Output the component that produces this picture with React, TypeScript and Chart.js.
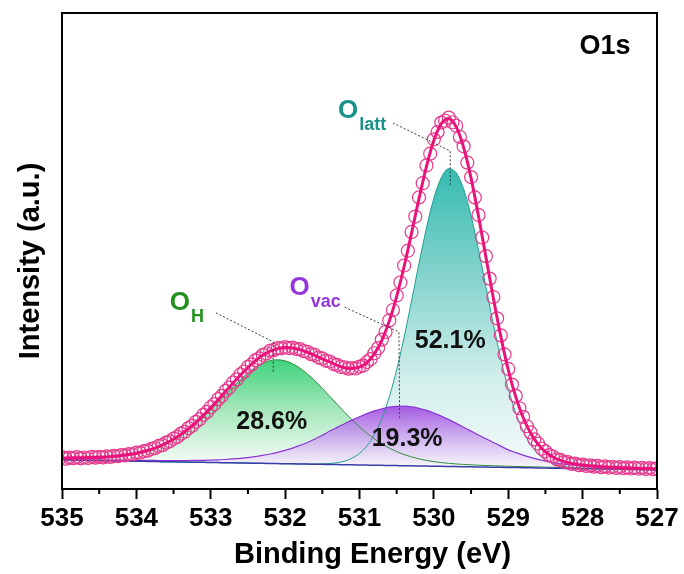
import React, { useEffect, useRef } from 'react';
import { Chart, registerables } from 'chart.js';

Chart.register(...registerables);

// Energy grid of the fitted curves (eV)
const FIT_ENERGY = [
  535.0, 534.9, 534.8, 534.7, 534.6, 534.5, 534.4, 534.3, 534.2, 534.1,
  534.0, 533.9, 533.8, 533.7, 533.6, 533.5, 533.4, 533.3, 533.2, 533.1,
  533.0, 532.9, 532.8, 532.7, 532.6, 532.5, 532.4, 532.3, 532.2, 532.1,
  532.0, 531.9, 531.8, 531.7, 531.6, 531.5, 531.4, 531.3, 531.2, 531.1,
  531.0, 530.9, 530.8, 530.7, 530.6, 530.5, 530.4, 530.3, 530.2, 530.1,
  530.0, 529.9, 529.8, 529.7, 529.6, 529.5, 529.4, 529.3, 529.2, 529.1,
  529.0, 528.9, 528.8, 528.7, 528.6, 528.5, 528.4, 528.3, 528.2, 528.1,
  528.0, 527.9, 527.8, 527.7, 527.6, 527.5, 527.4, 527.3, 527.2, 527.1,
  527.0,
];

// Background under the O 1s envelope
const BACKGROUND = [
  6.10, 6.07, 6.05, 6.02, 6.00, 5.97, 5.94, 5.92, 5.89, 5.86,
  5.84, 5.81, 5.79, 5.76, 5.73, 5.71, 5.68, 5.65, 5.63, 5.60,
  5.58, 5.55, 5.52, 5.50, 5.47, 5.44, 5.42, 5.39, 5.37, 5.34,
  5.31, 5.29, 5.26, 5.23, 5.21, 5.18, 5.16, 5.13, 5.10, 5.08,
  5.05, 5.02, 5.00, 4.97, 4.95, 4.92, 4.89, 4.87, 4.84, 4.81,
  4.79, 4.76, 4.74, 4.71, 4.68, 4.66, 4.63, 4.60, 4.58, 4.55,
  4.53, 4.50, 4.47, 4.45, 4.42, 4.39, 4.37, 4.34, 4.32, 4.29,
  4.26, 4.24, 4.21, 4.18, 4.16, 4.13, 4.11, 4.08, 4.05, 4.03,
  4.00,
];

// Fitted components, height above the background
const O_H_PEAK = [
  0.31, 0.34, 0.37, 0.42, 0.48, 0.55, 0.65, 0.79, 0.96, 1.19,
  1.49, 1.87, 2.34, 2.93, 3.65, 4.51, 5.53, 6.69, 8.00, 9.45,
  11.01, 12.64, 14.31, 15.95, 17.51, 18.93, 20.12, 21.03, 21.61, 21.80,
  21.61, 21.03, 20.12, 18.93, 17.51, 15.95, 14.31, 12.64, 11.01, 9.45,
  8.00, 6.69, 5.53, 4.51, 3.65, 2.93, 2.34, 1.87, 1.49, 1.19,
  0.96, 0.79, 0.65, 0.55, 0.48, 0.42, 0.37, 0.34, 0.31, 0.28,
  0.26, 0.24, 0.23, 0.22, 0.21, 0.19, 0.18, 0.17, 0.16, 0.16,
  0.15, 0.14, 0.14, 0.13, 0.13, 0.12, 0.12, 0.11, 0.11, 0.11,
  0.10,
];

const O_VAC_PEAK = [
  0.12, 0.12, 0.13, 0.13, 0.14, 0.14, 0.15, 0.16, 0.17, 0.18,
  0.19, 0.20, 0.21, 0.23, 0.25, 0.27, 0.30, 0.34, 0.38, 0.43,
  0.49, 0.58, 0.68, 0.81, 0.97, 1.16, 1.39, 1.66, 1.98, 2.35,
  2.80, 3.30, 3.90, 4.55, 5.30, 6.10, 7.02, 7.81, 8.61, 9.39,
  10.13, 10.81, 11.40, 11.89, 12.24, 12.45, 12.50, 12.38, 12.12, 11.71,
  11.18, 10.55, 9.84, 9.08, 8.29, 7.50, 6.71, 5.95, 5.20, 4.45,
  3.70, 3.15, 2.65, 2.20, 1.82, 1.48, 1.20, 0.98, 0.80, 0.65,
  0.54, 0.45, 0.38, 0.32, 0.28, 0.24, 0.21, 0.19, 0.17, 0.15,
  0.14,
];

const O_LATT_PEAK = [
  0, 0, 0, 0, 0, 0, 0, 0, 0, 0,
  0, 0, 0, 0, 0, 0, 0, 0, 0, 0,
  0, 0, 0, 0, 0, 0, 0, 0, 0, 0,
  0, 0, 0.01, 0.02, 0.05, 0.10, 0.20, 0.40, 0.76, 1.39,
  2.42, 4.03, 6.44, 9.84, 14.39, 20.16, 27.01, 34.66, 42.57, 50.04,
  56.32, 60.66, 62.55, 61.73, 58.32, 52.74, 45.65, 37.82, 30.00, 22.78,
  16.55, 11.51, 7.67, 4.89, 2.98, 1.74, 0.97, 0.52, 0.27, 0.13,
  0.06, 0.03, 0.01, 0, 0, 0, 0, 0, 0, 0,
  0,
];

// Measured spectrum
const DATA_ENERGY = [
  535.00, 534.95, 534.90, 534.85, 534.80, 534.75, 534.70, 534.65, 534.60, 534.55,
  534.50, 534.45, 534.40, 534.35, 534.30, 534.25, 534.20, 534.15, 534.10, 534.05,
  534.00, 533.95, 533.90, 533.85, 533.80, 533.75, 533.70, 533.65, 533.60, 533.55,
  533.50, 533.45, 533.40, 533.35, 533.30, 533.25, 533.20, 533.15, 533.10, 533.05,
  533.00, 532.95, 532.90, 532.85, 532.80, 532.75, 532.70, 532.65, 532.60, 532.55,
  532.50, 532.45, 532.40, 532.35, 532.30, 532.25, 532.20, 532.15, 532.10, 532.05,
  532.00, 531.95, 531.90, 531.85, 531.80, 531.75, 531.70, 531.65, 531.60, 531.55,
  531.50, 531.45, 531.40, 531.35, 531.30, 531.25, 531.20, 531.15, 531.10, 531.05,
  531.00, 530.95, 530.90, 530.85, 530.80, 530.75, 530.70, 530.65, 530.60, 530.55,
  530.50, 530.45, 530.40, 530.35, 530.30, 530.25, 530.20, 530.15, 530.10, 530.05,
  530.00, 529.95, 529.90, 529.85, 529.80, 529.75, 529.70, 529.65, 529.60, 529.55,
  529.50, 529.45, 529.40, 529.35, 529.30, 529.25, 529.20, 529.15, 529.10, 529.05,
  529.00, 528.95, 528.90, 528.85, 528.80, 528.75, 528.70, 528.65, 528.60, 528.55,
  528.50, 528.45, 528.40, 528.35, 528.30, 528.25, 528.20, 528.15, 528.10, 528.05,
  528.00, 527.95, 527.90, 527.85, 527.80, 527.75, 527.70, 527.65, 527.60, 527.55,
  527.50, 527.45, 527.40, 527.35, 527.30, 527.25, 527.20, 527.15, 527.10, 527.05,
  527.00,
];

const DATA_INTENSITY = [
  6.71, 6.38, 6.60, 6.47, 6.69, 6.45, 6.62, 6.51, 6.74, 6.58,
  6.77, 6.63, 6.86, 6.74, 6.95, 6.88, 7.13, 7.06, 7.34, 7.30,
  7.63, 7.62, 7.97, 8.05, 8.45, 8.58, 9.04, 9.21, 9.74, 10.01,
  10.60, 10.94, 11.63, 12.02, 12.79, 13.27, 14.12, 14.66, 15.59, 16.20,
  17.18, 17.85, 18.88, 19.57, 20.62, 21.31, 22.37, 23.03, 24.06, 24.68,
  25.64, 26.17, 27.04, 27.45, 28.19, 28.47, 29.06, 29.17, 29.59, 29.55,
  29.82, 29.61, 29.72, 29.39, 29.39, 28.95, 28.83, 28.33, 28.17, 27.62,
  27.43, 26.93, 26.79, 26.25, 26.08, 25.63, 25.58, 25.29, 25.41, 25.32,
  25.71, 25.93, 26.68, 27.29, 28.52, 29.60, 31.38, 32.98, 35.42, 37.60,
  40.66, 43.38, 46.95, 50.06, 54.00, 57.24, 61.25, 64.24, 67.97, 70.45,
  73.46, 75.02, 76.98, 77.36, 78.02, 77.05, 76.31, 73.97, 71.99, 68.55,
  65.53, 61.25, 57.57, 52.84, 48.92, 44.20, 40.33, 35.86, 32.26, 28.27,
  25.22, 21.94, 19.56, 16.96, 15.16, 13.18, 11.88, 10.41, 9.55, 8.46,
  7.91, 7.12, 6.83, 6.24, 6.12, 5.66, 5.66, 5.28, 5.34, 5.01,
  5.12, 4.84, 4.96, 4.69, 4.84, 4.58, 4.74, 4.50, 4.67, 4.43,
  4.60, 4.36, 4.54, 4.31, 4.49, 4.25, 4.43, 4.21, 4.39, 4.17,
  4.34,
];

// Area shares of the three components (%)
const PEAK_SHARES = { latt: 52.1, H: 28.6, vac: 19.3 };

const X_TICKS = [535, 534, 533, 532, 531, 530, 529, 528, 527];
const X_MINOR_TICKS = [534.5, 533.5, 532.5, 531.5, 530.5, 529.5, 528.5, 527.5];

const FONT = 'Arial, "Liberation Sans", Helvetica, sans-serif';

const withBackground = (peak: number[]) =>
  FIT_ENERGY.map((x, i) => ({ x, y: BACKGROUND[i] + peak[i] }));

const backgroundPoints = FIT_ENERGY.map((x, i) => ({ x, y: BACKGROUND[i] }));
const envelopePoints = FIT_ENERGY.map((x, i) => ({
  x,
  y: BACKGROUND[i] + O_H_PEAK[i] + O_VAC_PEAK[i] + O_LATT_PEAK[i],
}));
const measuredPoints = DATA_ENERGY.map((x, i) => ({ x, y: DATA_INTENSITY[i] }));

// Vertical gradient running from a component's apex down to its base
function apexGradient(peak: number[], stops: [number, string][]) {
  let top = 0;
  let base = 0;
  peak.forEach((v, i) => {
    if (BACKGROUND[i] + v > top) {
      top = BACKGROUND[i] + v;
      base = BACKGROUND[i];
    }
  });
  return (ctx: any) => {
    const chart = ctx.chart;
    const y = chart.scales && chart.scales.y;
    if (!chart.chartArea || !y) return stops[0][1];
    const g = chart.ctx.createLinearGradient(0, y.getPixelForValue(top), 0, y.getPixelForValue(base));
    stops.forEach(([o, c]) => g.addColorStop(o, c));
    return g;
  };
}

type Pt = [number, number];
const PEAK_TAGS: { main: string; sub: string; color: string; at: Pt; leader: Pt[] }[] = [
  { main: 'O', sub: 'latt', color: '#17938a', at: [531.29, 77.9], leader: [[530.55, 76.9], [529.78, 71.0], [529.78, 63.9]] },
  { main: 'O', sub: 'H', color: '#22901f', at: [533.55, 37.6], leader: [[532.93, 37.0], [532.16, 30.9], [532.16, 24.4]] },
  { main: 'O', sub: 'vac', color: '#9436dc', at: [531.94, 40.8], leader: [[531.2, 38.2], [530.47, 33.0], [530.46, 14.5]] },
];
const SHARE_TAGS: { share: number; at: Pt }[] = [
  { share: PEAK_SHARES.latt, at: [529.78, 31.1] },
  { share: PEAK_SHARES.H, at: [532.18, 14.1] },
  { share: PEAK_SHARES.vac, at: [530.36, 10.5] },
];

const decorPlugin = {
  id: 'decor',
  afterDatasetsDraw(chart: any) {
    const { ctx, chartArea: a, scales } = chart;
    const xs = scales.x;
    const ys = scales.y;
    const px = (p: Pt): Pt => [xs.getPixelForValue(p[0]), ys.getPixelForValue(p[1])];
    ctx.save();

    // frame
    ctx.strokeStyle = '#000';
    ctx.lineWidth = 2;
    ctx.setLineDash([]);
    ctx.strokeRect(a.left, a.top, a.right - a.left, a.bottom - a.top);

    // minor ticks
    ctx.beginPath();
    X_MINOR_TICKS.forEach((v) => {
      const x = xs.getPixelForValue(v);
      ctx.moveTo(x, a.bottom);
      ctx.lineTo(x, a.bottom + 5);
    });
    ctx.stroke();

    // leaders
    ctx.strokeStyle = '#3a3a3a';
    ctx.lineWidth = 1;
    ctx.setLineDash([2, 2]);
    PEAK_TAGS.forEach((t) => {
      ctx.beginPath();
      t.leader.forEach((p, i) => {
        const [x, y] = px(p);
        if (i === 0) ctx.moveTo(x, y);
        else ctx.lineTo(x, y);
      });
      ctx.stroke();
    });
    ctx.setLineDash([]);

    // component names
    ctx.textAlign = 'left';
    ctx.textBaseline = 'alphabetic';
    PEAK_TAGS.forEach((t) => {
      const [x, y] = px(t.at);
      ctx.fillStyle = t.color;
      ctx.font = `bold 26px ${FONT}`;
      ctx.fillText(t.main, x, y);
      const w = ctx.measureText(t.main).width;
      ctx.font = `bold 18px ${FONT}`;
      ctx.fillText(t.sub, x + w + 1, y + 12);
    });

    // area shares
    ctx.fillStyle = '#111';
    ctx.font = `bold 25px ${FONT}`;
    ctx.textAlign = 'center';
    ctx.textBaseline = 'middle';
    SHARE_TAGS.forEach((t) => {
      const [x, y] = px(t.at);
      ctx.fillText(`${t.share.toFixed(1)}%`, x, y);
    });

    // core level
    ctx.font = `bold 27px ${FONT}`;
    ctx.fillStyle = '#000';
    const [ox, oy] = px([527.7, 92.9]);
    ctx.fillText('O1s', ox, oy);

    // axis titles
    ctx.font = `bold 29px ${FONT}`;
    ctx.fillText('Binding Energy (eV)', (a.left + a.right) / 2 + 13, 555);
    ctx.save();
    ctx.translate(31, (a.top + a.bottom) / 2 + 10);
    ctx.rotate(-Math.PI / 2);
    ctx.fillText('Intensity (a.u.)', 0, 0);
    ctx.restore();

    ctx.restore();
  },
};

export default function App() {
  const ref = useRef<HTMLCanvasElement>(null);

  useEffect(() => {
    const canvas = ref.current;
    if (!canvas) return;

    const fitLine = { pointRadius: 0, cubicInterpolationMode: 'monotone' as const };

    const chart = new Chart(canvas, {
      type: 'line',
      data: {
        datasets: [
          {
            label: 'Background',
            data: backgroundPoints,
            borderColor: '#3c3ca6',
            borderWidth: 1.5,
            fill: false,
            order: 4,
            ...fitLine,
          },
          {
            label: 'O latt',
            data: withBackground(O_LATT_PEAK),
            borderColor: '#1f9e94',
            borderWidth: 1,
            backgroundColor: apexGradient(O_LATT_PEAK, [
              [0, '#36bbb0'],
              [0.4, '#8dd6d0'],
              [0.7, '#d0eeeb'],
              [1, '#f4fbfa'],
            ]),
            fill: 0,
            order: 7,
            ...fitLine,
          },
          {
            label: 'O H',
            data: withBackground(O_H_PEAK),
            borderColor: '#2e8f3e',
            borderWidth: 1,
            backgroundColor: apexGradient(O_H_PEAK, [
              [0, '#40d27d'],
              [0.5, '#a8e8bd'],
              [1, '#f6fcf7'],
            ]),
            fill: 0,
            order: 6,
            ...fitLine,
          },
          {
            label: 'O vac',
            data: withBackground(O_VAC_PEAK),
            borderColor: '#8b35d6',
            borderWidth: 1.2,
            backgroundColor: apexGradient(O_VAC_PEAK, [
              [0, 'rgba(162,82,224,0.95)'],
              [0.5, 'rgba(200,160,238,0.85)'],
              [1, 'rgba(247,240,251,0.75)'],
            ]),
            fill: 0,
            order: 5,
            ...fitLine,
          },
          {
            label: 'Raw',
            data: measuredPoints,
            showLine: false,
            pointRadius: 6.5,
            pointBorderWidth: 1.2,
            pointBorderColor: '#e6388c',
            pointBackgroundColor: 'rgba(0,0,0,0)',
            fill: false,
            clip: 0,
            order: 2,
          },
          {
            label: 'Fit',
            data: envelopePoints,
            borderColor: '#ea137b',
            borderWidth: 3,
            fill: false,
            order: 1,
            ...fitLine,
          },
        ],
      },
      options: {
        animation: false,
        responsive: true,
        maintainAspectRatio: false,
        events: [],
        layout: { padding: { left: 62, right: 27, top: 13, bottom: 0 } },
        plugins: {
          legend: { display: false },
          tooltip: { enabled: false },
          filler: { drawTime: 'beforeDatasetsDraw', propagate: false },
        },
        scales: {
          x: {
            type: 'linear',
            min: 527,
            max: 535,
            reverse: true,
            afterBuildTicks: (scale: any) => {
              scale.ticks = X_TICKS.map((value) => ({ value }));
            },
            afterFit: (scale: any) => {
              scale.height = 85;
            },
            ticks: {
              autoSkip: false,
              maxRotation: 0,
              padding: 4,
              color: '#000',
              font: { family: FONT, size: 26, weight: 'bold' },
              callback: (v: any) => String(v),
            },
            grid: {
              display: true,
              drawOnChartArea: false,
              drawTicks: true,
              tickLength: 10,
              tickWidth: 2,
              tickColor: '#000',
            },
            border: { display: true, color: '#000', width: 2 },
          },
          y: { display: false, min: 0, max: 100 },
        },
      },
      plugins: [decorPlugin],
    } as any);

    return () => chart.destroy();
  }, []);

  return (
    <div style={{ position: 'fixed', left: 0, top: 0, width: 684, height: 574, background: '#fff' }}>
      <canvas ref={ref} />
    </div>
  );
}
